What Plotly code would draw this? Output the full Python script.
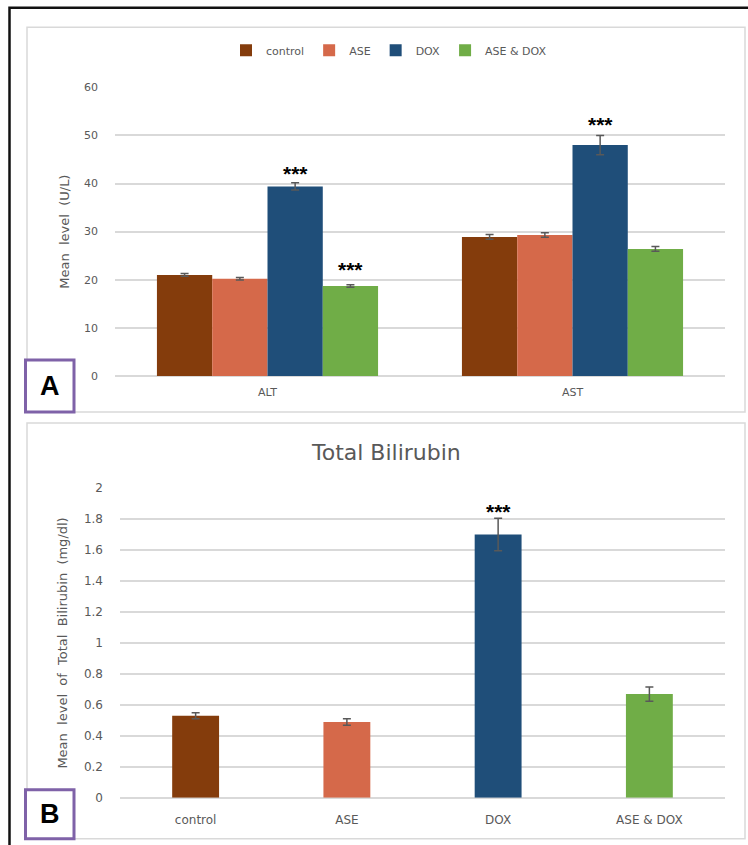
import plotly.graph_objects as go

# ---------------- data ----------------
categories_A = ["ALT", "AST"]
groups = ["control", "ASE", "DOX", "ASE & DOX"]
control_A = [21.0, 28.9]
ase_A = [20.2, 29.3]
dox_A = [39.4, 48.0]
asedox_A = [18.7, 26.4]
control_A_err = [0.3, 0.5]
ase_A_err = [0.25, 0.45]
dox_A_err = [0.75, 2.0]
asedox_A_err = [0.25, 0.5]

categories_B = ["control", "ASE", "DOX", "ASE & DOX"]
bilirubin = [0.53, 0.49, 1.70, 0.67]
bilirubin_err = [0.02, 0.021, 0.105, 0.046]

# significance markers: (category index, series index, y)
stars_A = [(0, 2, 43.0), (0, 3, 23.0), (1, 2, 53.2)]
stars_B = [(2, 1.875)]

colors = ["#843C0C", "#D5694A", "#1F4E79", "#70AD47"]

W, H = 748, 845
FONT = "DejaVu Sans"
GRAY = "#595959"
GRID = "#D9D9D9"

# the captured page is slightly compressed vertically; compensate
VSCALE = 0.9814
VOFF = 8


def px_x(v):
    return v / W


def px_y(v):
    return 1 - (v / VSCALE - VOFF) / H


fig = go.Figure()

values_A = [control_A, ase_A, dox_A, asedox_A]
errs_A = [control_A_err, ase_A_err, dox_A_err, asedox_A_err]
for name, vals, errs, col in zip(groups, values_A, errs_A, colors):
    fig.add_trace(go.Bar(
        x=categories_A, y=vals, name=name, marker=dict(color=col, line=dict(width=0)),
        error_y=dict(type="data", array=errs, color=GRAY, thickness=1.5, width=4),
        xaxis="x", yaxis="y",
    ))

fig.add_trace(go.Bar(
    x=categories_B, y=bilirubin, marker=dict(color=colors, line=dict(width=0)),
    error_y=dict(type="data", array=bilirubin_err, color=GRAY, thickness=1.5, width=4),
    width=0.31, showlegend=False, xaxis="x2", yaxis="y2",
))

BARGAP = 0.275
groupw = 1 - BARGAP
barw = groupw / len(groups)

STAR_FONT = dict(family="Liberation Sans", size=21, color="black")
annotations = []
for cat, ser, yv in stars_A:
    xpos = cat - groupw / 2 + (ser + 0.5) * barw
    annotations.append(dict(x=xpos, y=yv, xref="x", yref="y", text="<b>***</b>",
                            showarrow=False, font=STAR_FONT,
                            xanchor="center", yanchor="middle", yshift=-4))
for cat, yv in stars_B:
    annotations.append(dict(x=cat, y=yv, xref="x2", yref="y2", text="<b>***</b>",
                            showarrow=False, font=STAR_FONT,
                            xanchor="center", yanchor="middle", yshift=-4))

# panel B title
annotations.append(dict(x=px_x(386), y=px_y(452), xref="paper", yref="paper",
                        text="Total Bilirubin", showarrow=False,
                        xanchor="center", yanchor="middle",
                        font=dict(family=FONT, size=22, color=GRAY)))
# panel letters
LETTER_FONT = dict(family="Liberation Sans", size=27, color="black")
annotations.append(dict(x=px_x(50), y=px_y(386), xref="paper", yref="paper",
                        text="<b>A</b>", showarrow=False,
                        xanchor="center", yanchor="middle", font=LETTER_FONT))
annotations.append(dict(x=px_x(50), y=px_y(813), xref="paper", yref="paper",
                        text="<b>B</b>", showarrow=False,
                        xanchor="center", yanchor="middle", font=LETTER_FONT))

shapes = [
    # outer black frame
    dict(type="rect", xref="paper", yref="paper", x0=px_x(9.5), x1=px_x(800),
         y0=px_y(900), y1=px_y(8.5), line=dict(color="#111111", width=2.5), layer="below"),
    # panel A box
    dict(type="rect", xref="paper", yref="paper", x0=px_x(27), x1=px_x(745),
         y0=px_y(412), y1=px_y(28), line=dict(color=GRID, width=1.5), layer="below"),
    # panel B box
    dict(type="rect", xref="paper", yref="paper", x0=px_x(27), x1=px_x(745),
         y0=px_y(838), y1=px_y(423), line=dict(color=GRID, width=1.5), layer="below"),
    # letter boxes
    dict(type="rect", xref="paper", yref="paper", x0=px_x(25.5), x1=px_x(74),
         y0=px_y(412), y1=px_y(360), line=dict(color="#7F62A8", width=3),
         fillcolor="white", layer="below"),
    dict(type="rect", xref="paper", yref="paper", x0=px_x(25.5), x1=px_x(74),
         y0=px_y(838), y1=px_y(789), line=dict(color="#7F62A8", width=3),
         fillcolor="white", layer="below"),
]

fig.update_layout(
    width=W, height=H, autosize=False,
    margin=dict(l=0, r=0, t=0, b=0),
    paper_bgcolor="white", plot_bgcolor="rgba(0,0,0,0)",
    barmode="group", bargap=BARGAP, bargroupgap=0,
    font=dict(family=FONT, color=GRAY),
    xaxis=dict(domain=[px_x(115), px_x(725)], anchor="y", showgrid=False, showline=False,
               ticks="", ticklabelstandoff=8,
               tickfont=dict(family=FONT, size=11, color=GRAY)),
    yaxis=dict(domain=[px_y(376), px_y(88)], anchor="x", range=[0, 60], dtick=10,
               showgrid=True, gridcolor=GRID, gridwidth=1.5, zeroline=True,
               zerolinecolor=GRID, zerolinewidth=1.5, ticklabelstandoff=16,
               showline=False, ticks="",
               tickfont=dict(family=FONT, size=11, color=GRAY),
               title=dict(text="Mean  level  (U/L)", standoff=11,
                          font=dict(family=FONT, size=13, color=GRAY))),
    xaxis2=dict(domain=[px_x(120), px_x(725)], anchor="y2", showgrid=False, showline=False,
                ticks="", ticklabelstandoff=13,
                tickfont=dict(family=FONT, size=12, color=GRAY)),
    yaxis2=dict(domain=[px_y(797), px_y(488)], anchor="x2", range=[0, 2], dtick=0.2,
                showgrid=True, gridcolor=GRID, gridwidth=1.5, zeroline=True,
                zerolinecolor=GRID, zerolinewidth=1.5, ticklabelstandoff=16,
                showline=False, ticks="",
                tickfont=dict(family=FONT, size=12, color=GRAY),
                title=dict(text="Mean  level  of  Total  Bilirubin  (mg/dl)", standoff=13,
                           font=dict(family=FONT, size=13, color=GRAY))),
    legend=dict(orientation="h", x=px_x(389), xanchor="center", y=px_y(51),
                yanchor="middle", font=dict(family=FONT, size=11, color=GRAY),
                itemwidth=30, bgcolor="rgba(0,0,0,0)", tracegroupgap=0),
    annotations=annotations,
    shapes=shapes,
)

fig.write_html("out.html",
               post_script="document.body.style.margin='0';document.body.style.padding='0';")
